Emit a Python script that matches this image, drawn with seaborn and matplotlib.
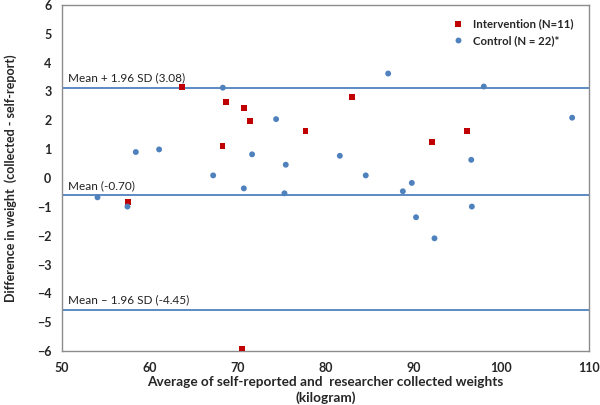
import seaborn as sns
from matplotlib import pyplot as plt
import pandas as pd

# Intervention group (red squares)
int_avg = [63.65, 68.7, 70.74, 71.39, 68.28, 77.72, 83.03, 92.09, 96.07, 57.55, 70.51]
int_diff = [3.16, 2.62, 2.44, 1.99, 1.12, 1.63, 2.80, 1.26, 1.63, -0.82, -5.91]

# Control group (blue circles)
ctl_avg = [68.32, 74.38, 58.42, 61.07, 71.65, 75.48, 67.22, 70.71, 75.33, 54.06, 57.47,
           87.13, 98.01, 108.06, 81.63, 96.58, 84.58, 89.82, 88.8, 90.3, 92.4, 96.65]
ctl_diff = [3.13, 2.04, 0.90, 0.99, 0.82, 0.46, 0.09, -0.36, -0.53, -0.67, -0.99,
            3.62, 3.17, 2.09, 0.77, 0.63, 0.09, -0.17, -0.46, -1.36, -2.09, -0.99]

group_names = ["Intervention (N=11)", "Control (N = 22)*"]

# limits of agreement as drawn
ref_values = [3.13, -0.60, -4.57]
ref_labels = ["Mean + 1.96 SD (3.08)", "Mean (-0.70)", "Mean \u2013 1.96 SD (-4.45)"]

df = pd.DataFrame({
    "avg": int_avg + ctl_avg,
    "diff": int_diff + ctl_diff,
    "group": [group_names[0]] * len(int_avg) + [group_names[1]] * len(ctl_avg),
})

sns.set_style("white")
plt.rcParams['font.family'] = ['Lato', 'DejaVu Sans']

fig = plt.figure(figsize=(6, 4.05), dpi=100)
ax = fig.add_axes([0.103, 0.133, 0.879, 0.855])

blue = "#4F81BD"
red = "#C00000"

for v, lab in zip(ref_values, ref_labels):
    ax.axhline(v, color=blue, lw=1.3, zorder=1)
    ax.text(50.7, v + 0.15, lab, fontsize=8.5, color="#222222", va="bottom", ha="left")

sns.scatterplot(
    x="avg",
    y="diff",
    data=df,
    hue="group",
    style="group",
    palette={group_names[0]: red, group_names[1]: blue},
    markers={group_names[0]: "s", group_names[1]: "o"},
    s=18,
    linewidth=0,
    zorder=3,
    ax=ax,
)

ax.set_xlim(50, 110)
ax.set_ylim(-6, 6)
ax.set_xticks(range(50, 111, 10))
ax.set_yticks(range(-6, 7, 1))
for sp in ax.spines.values():
    sp.set_color("#8c8c8c")
    sp.set_linewidth(1)
ax.tick_params(axis="both", direction="out", length=4, color="#8c8c8c", labelsize=9)
for t in ax.get_xticklabels() + ax.get_yticklabels():
    t.set_fontweight("bold")

ax.set_xlabel("Average of self-reported and  researcher collected weights\n(kilogram)",
              fontsize=9.8, fontweight="bold", labelpad=2, linespacing=1.3)
ax.set_ylabel("Difference in weight  (collected - self-report)",
              fontsize=9, fontweight="bold", labelpad=14)

leg = ax.legend(loc="upper left", bbox_to_anchor=(0.71, 0.99), frameon=False,
                fontsize=8.2, handletextpad=0.3, labelspacing=0.5, markerscale=1.0)
for t in leg.get_texts():
    t.set_fontweight("bold")

plt.savefig("out.png", dpi=100)
